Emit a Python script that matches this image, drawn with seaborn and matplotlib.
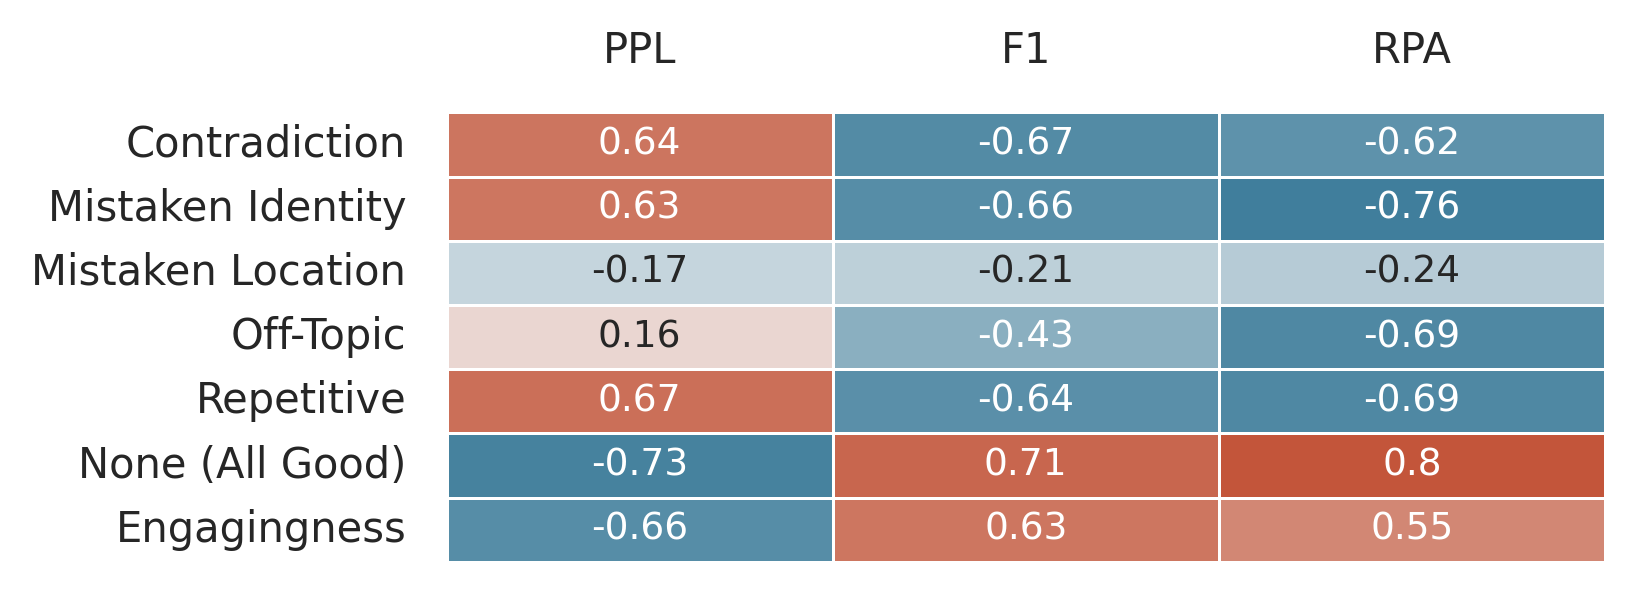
import pandas as pd
import seaborn as sns
import matplotlib.pyplot as plt

# Correlation between human judgments and automatic metrics
rows = ["Contradiction", "Mistaken Identity", "Mistaken Location", "Off-Topic",
        "Repetitive", "None (All Good)", "Engagingness"]
metrics = ["PPL", "F1", "RPA"]
ppl = [0.64, 0.63, -0.17, 0.16, 0.67, -0.73, -0.66]
f1 = [-0.67, -0.66, -0.21, -0.43, -0.64, 0.71, 0.63]
rpa = [-0.62, -0.76, -0.24, -0.69, -0.69, 0.8, 0.55]

df = pd.DataFrame({"PPL": ppl, "F1": f1, "RPA": rpa}, index=rows)[metrics]

sns.set_theme(style="white")
plt.rcParams['font.family'] = ['DejaVu Sans']

fig, ax = plt.subplots(figsize=(8.18, 2.97), dpi=200)
cmap = sns.diverging_palette(230, 20, as_cmap=True)
sns.heatmap(df, ax=ax, cmap=cmap, annot=True, fmt="g",
            linewidths=1, linecolor="white", cbar=False,
            annot_kws={"fontsize": 13.5})
ax.xaxis.tick_top()
ax.tick_params(axis="both", length=0, labelsize=15)
ax.tick_params(axis="x", pad=14.5)
ax.tick_params(axis="y", pad=14.5)
plt.setp(ax.get_yticklabels(), rotation=0)
plt.setp(ax.get_xticklabels(), rotation=0)
ax.set_xlabel("")
ax.set_ylabel("")
fig.subplots_adjust(left=0.273, right=0.981, top=0.811, bottom=0.054)
fig.savefig("out.png")
